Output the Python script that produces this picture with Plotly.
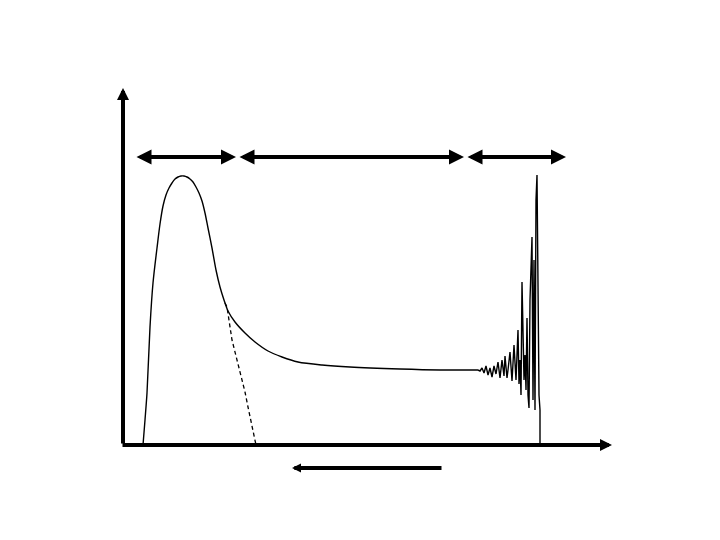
import plotly.graph_objects as go

# Smooth part of the trace (x position, pixel row in the sketch)
smooth_x = [143, 145, 147, 150, 153, 157, 160, 163, 166, 169, 172, 175, 178, 181, 184, 187, 190,
            193, 196, 199, 202, 205, 208, 212, 216, 220, 224, 228, 235, 245, 255, 268, 282, 298,
            322, 350, 400, 440, 478]
smooth_ypix = [445, 420, 393, 327, 283, 248, 224, 206, 195, 188, 183, 179, 177, 176, 176, 177, 179,
               182, 187, 193, 201, 213, 228, 248, 270, 287, 300, 311, 322, 333, 342, 351, 357, 362,
               365, 367, 369, 370, 370]

# Ringing part of the trace
ring_x = [478, 480, 482, 484, 486, 488, 490, 492, 494, 496, 498, 500, 502, 504, 505, 507, 508, 510, 512,
          514, 516, 518, 519, 520, 521, 522, 524, 525, 526, 527, 528, 529, 530, 532, 533, 534, 535,
          536, 537, 538, 539, 540, 540]
ring_ypix = [370, 371, 368, 373, 366, 375, 368, 377, 366, 374, 362, 378, 360, 376, 356, 378, 370, 352, 381,
             345, 380, 330, 384, 360, 395, 282, 380, 355, 390, 318, 395, 408, 300, 237, 400, 260, 410,
             200, 175, 300, 395, 410, 445]

# Extrapolated (dashed) fall-off of the first peak
dash_x = [225, 227, 232, 237, 242, 245, 248, 252, 256]
dash_ypix = [303, 307, 340, 360, 378, 392, 407, 425, 445]

BASE = 445
smooth_y = [BASE - v for v in smooth_ypix]
ring_y = [BASE - v for v in ring_ypix]
dash_y = [BASE - v for v in dash_ypix]

# Arrows: (x_tail, y_tail, x_head, y_head, width, size)
axis_arrows = [
    (123, 445, 123, 88, 4, 0.6),    # vertical axis
    (121, 445, 612, 445, 4, 0.6),   # horizontal axis
]
range_arrows = [
    (135, 157, 236, 157),
    (238, 157, 464, 157),
    (466, 157, 566, 157),
]
direction_arrow = (443, 468, 292, 468)

PAGE_OFFSET = 8  # default body margin of the html page

fig = go.Figure()
fig.add_trace(go.Scatter(x=smooth_x, y=smooth_y, mode="lines",
                         line=dict(color="black", width=1.4, shape="spline", smoothing=0.8),
                         hoverinfo="skip"))
fig.add_trace(go.Scatter(x=ring_x, y=ring_y, mode="lines",
                         line=dict(color="black", width=1.4), hoverinfo="skip"))
fig.add_trace(go.Scatter(x=dash_x, y=dash_y, mode="lines",
                         line=dict(color="black", width=1.3, dash="4px,3px"), hoverinfo="skip"))

anns = []
for (x0, y0, x1, y1, w, s) in axis_arrows:
    anns.append(dict(x=x1, y=BASE - y1, ax=x0, ay=BASE - y0, xref="x", yref="y",
                     axref="x", ayref="y", text="", showarrow=True, arrowhead=2,
                     arrowsize=s, arrowwidth=w, arrowcolor="black", standoff=0, startstandoff=0))
for (x0, y0, x1, y1) in range_arrows:
    anns.append(dict(x=x1, y=BASE - y1, ax=x0, ay=BASE - y0, xref="x", yref="y",
                     axref="x", ayref="y", text="", showarrow=True, arrowhead=2, startarrowhead=2,
                     arrowside="end+start", arrowsize=0.75, startarrowsize=0.75,
                     arrowwidth=4, arrowcolor="black", standoff=0, startstandoff=0))
x0, y0, x1, y1 = direction_arrow
anns.append(dict(x=x1, y=BASE - y1, ax=x0, ay=BASE - y0, xref="x", yref="y",
                 axref="x", ayref="y", text="", showarrow=True, arrowhead=2,
                 arrowsize=0.45, arrowwidth=4, arrowcolor="black", standoff=0, startstandoff=0))

fig.update_layout(
    width=720, height=540,
    margin=dict(l=0, r=0, t=0, b=0),
    paper_bgcolor="white", plot_bgcolor="white",
    showlegend=False,
    xaxis=dict(range=[PAGE_OFFSET, 720 + PAGE_OFFSET], visible=False, fixedrange=True),
    yaxis=dict(range=[BASE - 540 - PAGE_OFFSET, BASE - PAGE_OFFSET], visible=False, fixedrange=True),
    annotations=anns,
)
fig.write_html("out.html")
